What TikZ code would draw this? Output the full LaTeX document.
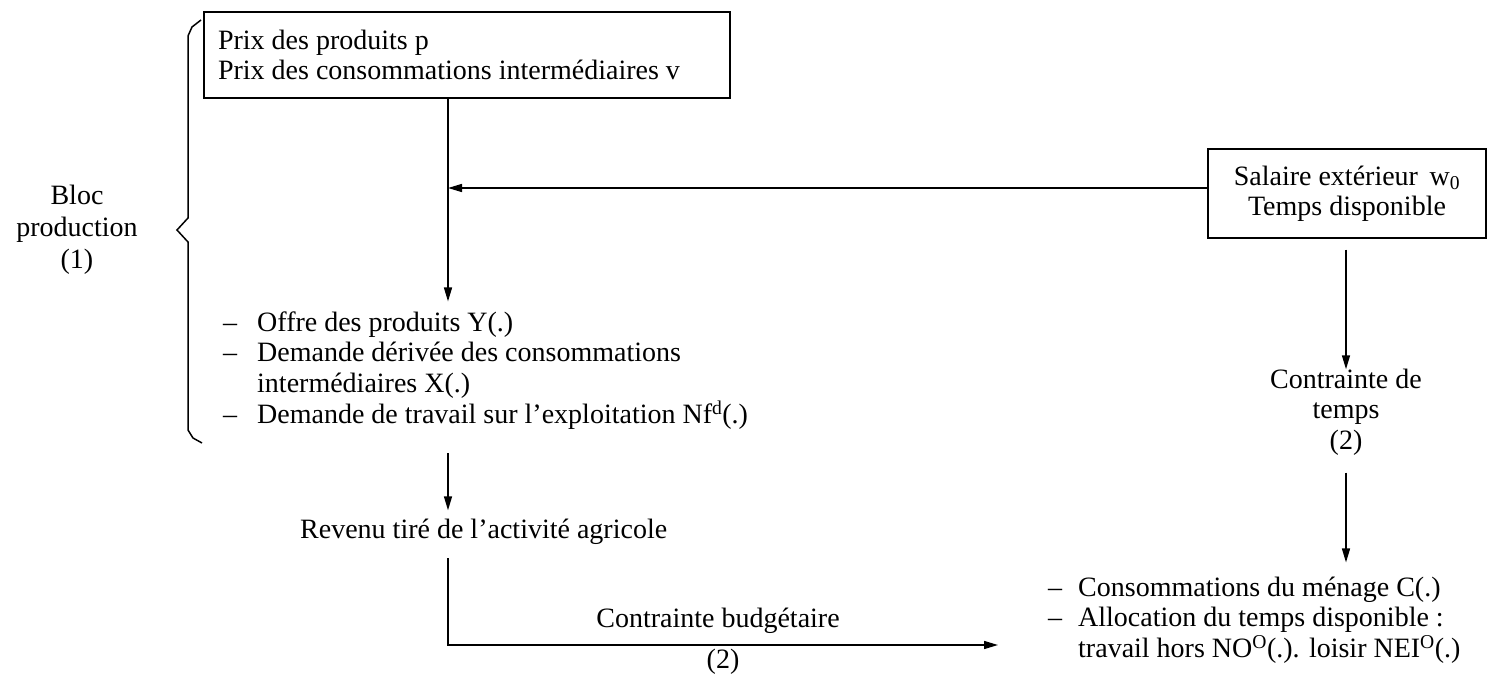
\documentclass[tikz,border=0pt]{standalone}
\usepackage{fontspec}
\setmainfont{Liberation Serif}
\usetikzlibrary{arrows.meta}
\begin{document}
\begin{tikzpicture}[x=1pt,y=-1pt,
  every node/.style={font=\fontsize{28}{30.5}\selectfont},
  boxnode/.style={draw,line width=1.5pt},
  conn/.style={line width=1.5pt,-{Triangle[length=14pt,width=8pt]}},
  plain/.style={line width=1.5pt}]
\useasboundingbox (0,0) rectangle (1489,679);
% top box
\node[boxnode,minimum width=526pt,minimum height=86pt,text width=498pt,align=flush left,inner xsep=14pt] (top) at (467,55)
  {Prix des produits p\\Prix des consommations intermédiaires v};
% right box
\node[boxnode,minimum width=278pt,minimum height=89pt,align=center] (rbox) at (1347,193.5)
  {Salaire extérieur\, w\textsubscript{0}\\Temps disponible};
% junction
\coordinate (jn) at (448,188);
% brace
\draw[plain] (201,20) -- (192,27) -- (188,36) -- (188,218) -- (177,230) -- (188,242) -- (188,430) -- (193,438) -- (202,443);
\node[align=center,font=\fontsize{28}{32}\selectfont] (bloc) at (77,230) {Bloc\\production\\(1)};
% middle list
\node[anchor=base west,inner sep=0pt] (list) at (223,331) {\renewcommand{\arraystretch}{1.0}%
  \begin{tabular}[t]{@{}l@{\hspace{20pt}}l@{}}
  – & Offre des produits Y(.)\\
  – & Demande dérivée des consommations\\
    & intermédiaires X(.)\\
  – & Demande de travail sur l'exploitation Nf\textsuperscript{d}(.)
  \end{tabular}};
\node[anchor=base west,inner sep=0pt] (rev) at (300,538) {Revenu tiré de l'activité agricole};
\coordinate (bt) at (998,645);
\node (cb) at (718,621) {Contrainte budgétaire};
\node (cb2) at (723,662) {(2)};
\node[align=center] (ct) at (1346,412) {Contrainte de\\temps\\(2)};
\node[anchor=base west,inner sep=0pt] (brl) at (1048,596) {\renewcommand{\arraystretch}{1.0}%
  \begin{tabular}[t]{@{}l@{\hspace{16pt}}l@{}}
  – & Consommations du ménage C(.)\\
  – & Allocation du temps disponible :\\
    & travail hors NO\textsuperscript{O}(.). loisir NEI\textsuperscript{O}(.)
  \end{tabular}};
% connectors
\draw[plain] (top.south -| jn) -- (jn);
\draw[conn] (jn) -- ([yshift=8pt]list.north -| jn);
\draw[conn] (rbox.west |- jn) -- (jn);
\draw[conn] ([yshift=-20pt]list.south -| jn) -- ([yshift=8pt]rev.north -| jn);
\draw[conn] ([yshift=-14pt]rev.south -| jn) |- (bt);
\draw[conn] ([yshift=-11pt]rbox.south -| ct) -- ([yshift=-4pt]ct.north);
\draw[conn] ([yshift=-14pt]ct.south) -- ([yshift=12pt]brl.north -| ct);
\end{tikzpicture}
\end{document}
